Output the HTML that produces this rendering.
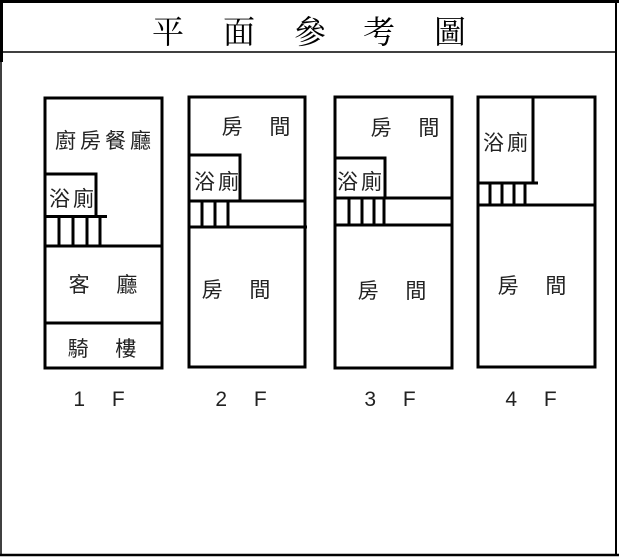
<!DOCTYPE html>
<html><head><meta charset="utf-8"><style>
html,body{margin:0;padding:0;background:#fff;}
svg{display:block;}
text{font-family:"Liberation Sans","Noto Sans CJK TC",sans-serif;fill:#222;}
.t{font-family:"Liberation Serif","Noto Serif CJK SC",serif;fill:#000;font-size:32px;}
</style></head><body>
<svg width="619" height="558" viewBox="0 0 619 558" xmlns="http://www.w3.org/2000/svg">
<g stroke="#000" fill="none">
<line x1="0" y1="1.5" x2="619" y2="1.5" stroke-width="3"/>
<line x1="1.5" y1="0" x2="1.5" y2="62" stroke-width="3"/>
<line x1="1" y1="60" x2="1" y2="556" stroke-width="1.5"/>
<line x1="616" y1="0" x2="616" y2="556" stroke-width="2"/>
<line x1="0" y1="52" x2="617" y2="52" stroke-width="1.5"/>
<line x1="0" y1="555" x2="619" y2="555" stroke-width="2.5"/>
<g stroke-width="3">
<rect x="45" y="98" width="117" height="270"/>
<polyline points="45,174 96,174 96,216"/>
<line x1="45" y1="216.5" x2="107" y2="216.5"/>
<line x1="45" y1="246" x2="162" y2="246"/>
<line x1="59" y1="216" x2="59" y2="246"/><line x1="73" y1="216" x2="73" y2="246"/><line x1="87" y1="216" x2="87" y2="246"/><line x1="100" y1="216" x2="100" y2="246"/>
<line x1="45" y1="323" x2="162" y2="323"/>
<rect x="189" y="97" width="116" height="270"/>
<polyline points="189,155 240,155 240,201"/>
<line x1="189" y1="201" x2="306" y2="201"/>
<line x1="189" y1="227" x2="307" y2="227"/>
<line x1="202" y1="201" x2="202" y2="227"/><line x1="215" y1="201" x2="215" y2="227"/><line x1="228" y1="201" x2="228" y2="227"/>
<rect x="335" y="97" width="117" height="271"/>
<polyline points="335,158 385,158 385,198"/>
<line x1="335" y1="198" x2="452" y2="198"/>
<line x1="335" y1="225" x2="452" y2="225"/>
<line x1="349" y1="198" x2="349" y2="225"/><line x1="362" y1="198" x2="362" y2="225"/><line x1="374" y1="198" x2="374" y2="225"/><line x1="384" y1="198" x2="384" y2="225"/>
<rect x="478" y="97" width="117" height="270"/>
<line x1="533" y1="97" x2="533" y2="183"/>
<line x1="478" y1="183" x2="538" y2="183"/>
<line x1="478" y1="205" x2="595" y2="205"/>
<line x1="490" y1="183" x2="490" y2="205"/><line x1="502" y1="183" x2="502" y2="205"/><line x1="514" y1="183" x2="514" y2="205"/><line x1="525" y1="183" x2="525" y2="205"/>
</g>
</g>
<g text-anchor="middle">
<text class="t" x="168" y="43">平</text><text class="t" x="239" y="43">面</text><text class="t" x="310" y="43">參</text><text class="t" x="379" y="43">考</text><text class="t" x="450" y="43">圖</text>
</g>
<g font-size="21" text-anchor="middle">
<text x="105" y="148" letter-spacing="4">廚房餐廳</text>
<text x="73" y="206" letter-spacing="3">浴廁</text>
<text x="103" y="292">客　 廳</text>
<text x="102" y="356">騎　 樓</text>
<text x="256" y="134">房　 間</text>
<text x="218" y="189" letter-spacing="3">浴廁</text>
<text x="236" y="297">房　 間</text>
<text x="405" y="135">房　 間</text>
<text x="361" y="189" letter-spacing="3">浴廁</text>
<text x="392" y="298">房　 間</text>
<text x="507" y="150" letter-spacing="3">浴廁</text>
<text x="532" y="293">房　 間</text>
<text x="99" y="406">1　 F</text>
<text x="241" y="406">2　 F</text>
<text x="390" y="406">3　 F</text>
<text x="531" y="406">4　 F</text>
</g>
</svg>
</body></html>
